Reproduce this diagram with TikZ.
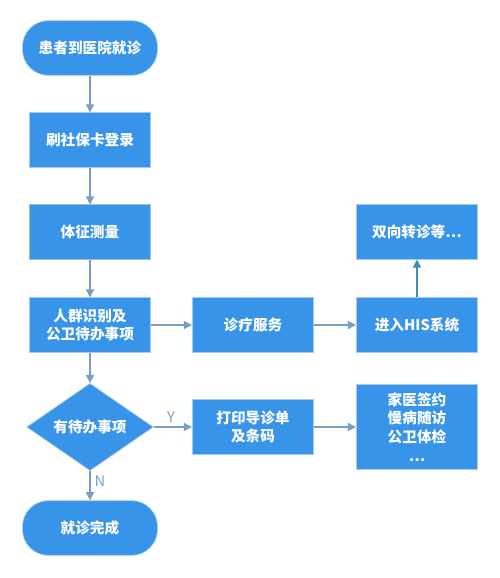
\documentclass[tikz,border=0pt]{standalone}
\usepackage{fontspec}
\setmainfont{Noto Sans CJK SC}
\usetikzlibrary{arrows.meta,shapes.geometric}

\definecolor{boxblue}{HTML}{3894E8}
\definecolor{boxedge}{HTML}{A9CBEF}
\definecolor{arrowgray}{HTML}{7C9DC1}
\definecolor{arrowteal}{HTML}{3A8FB7}

\tikzstyle{stepnode}=[rectangle, fill=boxblue, draw=boxedge, line width=0.6, text=white, minimum width=3.64cm, minimum height=1.63cm, align=center, font=\fontsize{12.5}{16}\selectfont\bfseries]
\tikzstyle{termnode}=[stepnode, minimum width=4.05cm, minimum height=1.64cm, rounded corners=22pt]
\tikzstyle{asknode}=[diamond, fill=boxblue, draw=boxedge, line width=0.6, text=white, inner sep=0, minimum width=3.8cm, minimum height=2.2cm, font=\fontsize{12.5}{16}\selectfont\bfseries]
\tikzstyle{flowline}=[arrowgray, line width=1.1, -{Triangle[length=7pt,width=7pt]}]
\tikzstyle{flowlabel}=[text=arrowgray, font=\fontsize{12.5}{14}\selectfont]

\begin{document}
\begin{tikzpicture}[x=0.03cm, y=-0.03cm]
  \useasboundingbox (0,0) rectangle (500,578);
  % left column
  \node[termnode] (Start) at (90,48) {患者到医院就诊};
  \node[stepnode] (Card) at (90,140) {刷社保卡登录};
  \node[stepnode, draw=arrowgray!70] (Sign) at (90,232) {体征测量};
  \node[stepnode] (Group) at (90,325) {人群识别及\\公卫待办事项};
  \node[asknode] (Todo) at (90,427) {有待办事项};
  \node[termnode] (Done) at (90,528) {就诊完成};
  % middle and right
  \node[stepnode] (Treat) at (253,325) {诊疗服务};
  \node[stepnode] (His) at (417,325) {进入HIS系统};
  \node[stepnode] (Refer) at (417,232) {双向转诊等…};
  \node[stepnode] (Print) at (253,427) {打印导诊单\\及条码};
  \node[stepnode, minimum height=2.55cm] (Care) at (417,427) {家医签约\\慢病随访\\公卫体检\\…};
  \draw[flowline] (Start) -- (Card);
  \draw[flowline] (Card) -- (Sign);
  \draw[flowline] (Sign) -- (Group);
  \draw[flowline] (Group) -- (Todo);
  \draw[flowline] (Todo) -- node[flowlabel, right, pos=0.35] {N} (Done);
  \draw[flowline] (Todo) -- node[flowlabel, above, pos=0.45] {Y} (Print);
  \draw[flowline] (Group) -- (Treat);
  \draw[flowline] (Treat) -- (His);
  \draw[flowline, arrowteal] (His) -- (Refer);
  \draw[flowline] (Print) -- (Care);
\end{tikzpicture}
\end{document}
